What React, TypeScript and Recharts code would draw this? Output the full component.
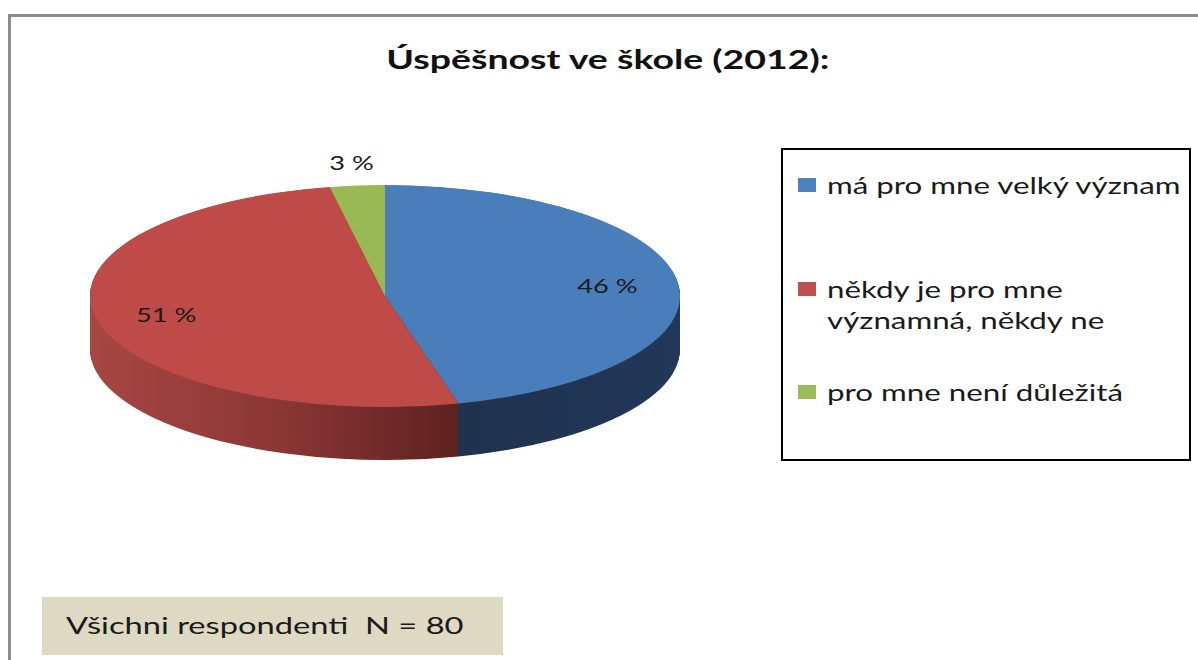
import { PieChart, Pie, Cell } from "recharts";

// hodnoty
const categories = [
  "má pro mne velký význam",
  "někdy je pro mne významná, někdy ne",
  "pro mne není důležitá",
];
const values = [46, 51, 3];
const topColors = ["#4a7ebb", "#be4b48", "#98b954"];
const legendColors = ["#4f81bd", "#c0504d", "#9bbb59"];
const sideFills = ["url(#sideBlue)", "url(#sideRed)", "#6f8a3c"];

const title = "Úspěšnost ve škole (2012):";
const footnote = "Všichni respondenti  N = 80";

const FONT = "Lato, 'Open Sans', sans-serif";
// originál je vodorovně roztažený obrázek -> písmo roztahujeme také
const STRETCH = 1.36;

// geometrie pseudo-3D koláče
const R = 295;
const SQUASH = 0.376;
const DEPTH = 141; // v jednotkách koláče (před zploštěním)
const STEP = 2;
const PAD = 200; // místo nad koláčem pro popisek 3 %
const PIE_W = 600;
const PIE_H = 960;
const CY = 300 + PAD;

const data = categories.map((name, i) => ({ name, value: values[i] }));
const layers: number[] = [];
for (let d = DEPTH; d > 0; d -= STEP) layers.push(d);

function renderLabel(p: any) {
  const RAD = Math.PI / 180;
  const r = p.percent < 0.05 ? p.outerRadius + 62 : p.outerRadius * 0.76;
  const x = p.cx + r * Math.cos(-p.midAngle * RAD);
  const y = p.cy + r * Math.sin(-p.midAngle * RAD);
  return (
    <text
      transform={`translate(${x} ${y}) scale(${STRETCH} ${1 / SQUASH})`}
      textAnchor="middle"
      dominantBaseline="central"
      fontFamily={FONT}
      fontSize={20}
      fill="#1a1a1a"
    >
      {`${p.value} %`}
    </text>
  );
}

const stretched = { display: "inline-block", transform: `scaleX(${STRETCH})`, transformOrigin: "0 0", whiteSpace: "pre" as const };

export default function App() {
  return (
    <div style={{ position: "absolute", left: 0, top: 0, width: 1198, height: 660, overflow: "hidden", background: "#fff", fontFamily: FONT }}>
      <svg width={0} height={0} style={{ position: "absolute" }}>
        <defs>
          <linearGradient id="sideRed" gradientUnits="userSpaceOnUse" x1={0} y1={0} x2={385} y2={0}>
            <stop offset="0%" stopColor="#a84744" />
            <stop offset="50%" stopColor="#8b3735" />
            <stop offset="100%" stopColor="#5b201f" />
          </linearGradient>
          <linearGradient id="sideBlue" gradientUnits="userSpaceOnUse" x1={380} y1={0} x2={600} y2={0}>
            <stop offset="0%" stopColor="#1f324e" />
            <stop offset="100%" stopColor="#22385a" />
          </linearGradient>
        </defs>
      </svg>

      {/* rámeček */}
      <div style={{ position: "absolute", left: 8, top: 14, width: 1300, height: 800, borderTop: "3px solid #8c8c8c", borderLeft: "3px solid #8c8c8c" }} />

      <div style={{ position: "absolute", left: 0, top: 43, width: 1216, textAlign: "center" }}>
        <span style={{ display: "inline-block", transform: "scaleX(1.44)", fontSize: 26, fontWeight: 700, color: "#111", lineHeight: "32px" }}>
          {title}
        </span>
      </div>

      <div style={{ position: "absolute", left: 85, top: 183.2 - PAD * SQUASH, width: PIE_W, height: PIE_H, transform: `scaleY(${SQUASH})`, transformOrigin: "0 0" }}>
        <PieChart width={PIE_W} height={PIE_H} margin={{ top: 0, right: 0, bottom: 0, left: 0 }}>
          {layers.map((d) => (
            <Pie
              key={`side-${d}`}
              data={data}
              dataKey="value"
              nameKey="name"
              cx={300}
              cy={CY + d}
              outerRadius={R}
              startAngle={90}
              endAngle={-270}
              stroke="none"
              isAnimationActive={false}
            >
              {data.map((_, i) => (
                <Cell key={i} fill={sideFills[i]} />
              ))}
            </Pie>
          ))}
          <Pie
            data={data}
            dataKey="value"
            nameKey="name"
            cx={300}
            cy={CY}
            outerRadius={R}
            startAngle={90}
            endAngle={-270}
            stroke="none"
            label={renderLabel}
            labelLine={false}
            isAnimationActive={false}
          >
            {data.map((_, i) => (
              <Cell key={i} fill={topColors[i]} />
            ))}
          </Pie>
        </PieChart>
      </div>

      {/* legenda */}
      <div style={{ position: "absolute", left: 781, top: 148, width: 406, height: 309, border: "2px solid #000" }}>
        {categories.map((c, i) => (
          <div key={c} style={{ position: "absolute", left: 15, top: [19.5, 123.5, 226.5][i], display: "flex", alignItems: "flex-start" }}>
            <div style={{ width: 18, height: 14, background: legendColors[i], marginTop: 8.5, marginRight: 11, flex: "none" }} />
            <div style={{ width: 268, fontSize: 23, lineHeight: "31px", color: "#1a1a1a", transform: `scaleX(${STRETCH})`, transformOrigin: "0 0" }}>{c}</div>
          </div>
        ))}
      </div>

      <div style={{ position: "absolute", left: 42, top: 597, width: 461, height: 58, background: "#ddd9c3" }}>
        <div style={{ position: "absolute", left: 24, top: 13, fontSize: 24, lineHeight: "30px", color: "#1a1a1a" }}>
          <span style={stretched}>{footnote}</span>
        </div>
      </div>
    </div>
  );
}
